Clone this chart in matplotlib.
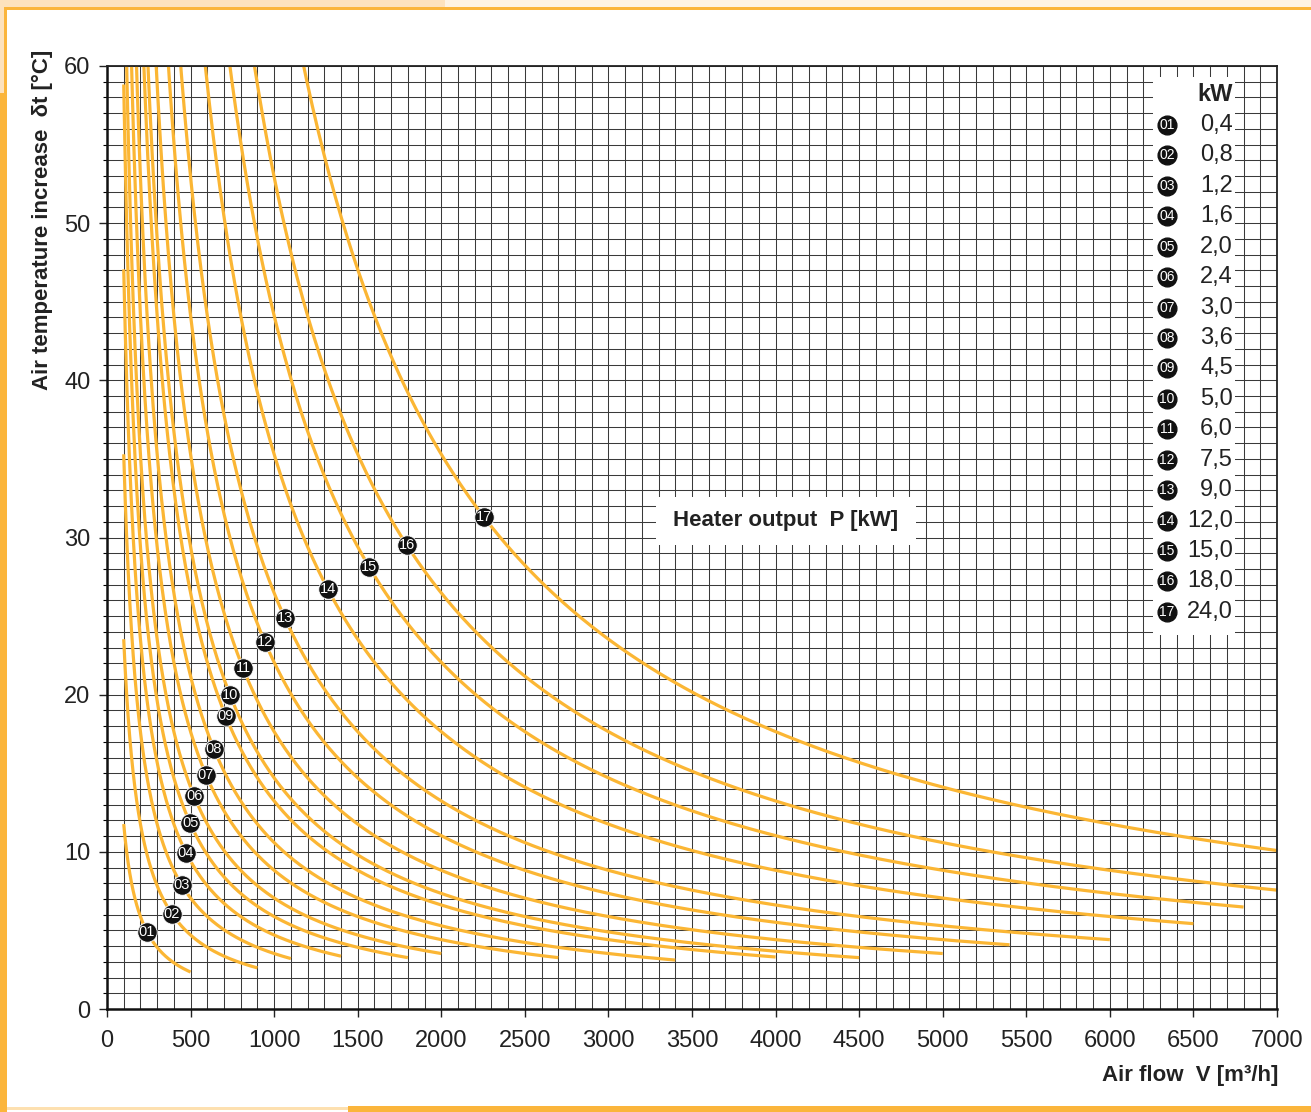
import matplotlib
matplotlib.use("Agg")
import matplotlib.pyplot as plt
import numpy as np
from matplotlib.patches import Rectangle

# Heater stages: number, output in kW and the air-flow range each curve covers
curve_ids = ["01", "02", "03", "04", "05", "06", "07", "08", "09",
             "10", "11", "12", "13", "14", "15", "16", "17"]
heater_kw = [0.4, 0.8, 1.2, 1.6, 2.0, 2.4, 3.0, 3.6, 4.5,
             5.0, 6.0, 7.5, 9.0, 12.0, 15.0, 18.0, 24.0]
kw_labels = ["0,4", "0,8", "1,2", "1,6", "2,0", "2,4", "3,0", "3,6", "4,5",
             "5,0", "6,0", "7,5", "9,0", "12,0", "15,0", "18,0", "24,0"]
flow_min = [100] * 17
flow_max = [500, 900, 1100, 1400, 1800, 2000, 2700, 3400, 4000,
            4500, 5000, 5400, 6000, 6500, 6800, 7000, 7000]
# air flow at which each curve carries its number badge
badge_flow = [239, 389, 449, 473, 497, 521, 592, 640, 710,
              736, 814, 945, 1065, 1322, 1568, 1795, 2256]

x_ticks = [0, 500, 1000, 1500, 2000, 2500, 3000, 3500,
           4000, 4500, 5000, 5500, 6000, 6500, 7000]
y_ticks = [0, 10, 20, 30, 40, 50, 60]

AIR_HEAT = 0.34  # volumetric heat capacity of air, Wh/(m3*K)


def temp_rise(p_kw, flow):
    """Air temperature increase for heater output p_kw at air flow (m3/h)."""
    return np.asarray(p_kw) * 1000.0 / (AIR_HEAT * np.asarray(flow, dtype=float))


FONT = ["Liberation Sans Narrow", "Liberation Sans", "DejaVu Sans"]
plt.rcParams["font.family"] = FONT

W, H = 1311, 1112
fig = plt.figure(figsize=(W / 100, H / 100), dpi=100)
fig.patch.set_facecolor("white")

ORANGE = "#FBB53B"
PEACH = "#FDE2BD"
CURVE = "#FBB634"
INK = "#222222"


def px_rect(x, y, w, h, color):
    fig.add_artist(Rectangle((x / W, 1 - (y + h) / H), w / W, h / H,
                             transform=fig.transFigure, facecolor=color,
                             edgecolor="none", zorder=0))


# page frame
px_rect(0, 0, 445, 7, PEACH)
px_rect(445, 0, 866, 7, "#FEF3E3")
px_rect(4, 7, 1307, 3, ORANGE)
px_rect(0, 0, 4, 93, PEACH)
px_rect(4, 7, 3, 86, ORANGE)
px_rect(0, 93, 7, 1019, ORANGE)
px_rect(7, 1107, 341, 3, "#FDE0B0")
px_rect(348, 1106, 963, 6, ORANGE)

ax = fig.add_axes([107 / W, 1 - 1009 / H, 1170 / W, 943 / H])
ax.set_xlim(0, 7000)
ax.set_ylim(0, 60)
ax.set_axisbelow(True)

ax.set_xticks(x_ticks)
ax.set_yticks(y_ticks)
ax.set_xticks(np.arange(0, 7001, 100), minor=True)
ax.set_yticks(np.arange(0, 61, 1), minor=True)
ax.grid(which="both", color="#3a3a3a", linewidth=0.75)
ax.tick_params(axis="x", which="major", length=6, width=1.0, pad=9,
               labelsize=17, colors=INK, direction="out")
ax.tick_params(axis="x", which="minor", length=0)
ax.tick_params(axis="y", which="major", length=6, width=1.0, pad=6,
               labelsize=17, colors=INK, direction="out")
ax.tick_params(axis="y", which="minor", length=3, width=0.8, direction="out")
for side in ("left", "bottom"):
    ax.spines[side].set_linewidth(1.8)
    ax.spines[side].set_color("#111111")
for side in ("top", "right"):
    ax.spines[side].set_linewidth(1.3)
    ax.spines[side].set_color(INK)

# white panels for the key and the caption
ax.add_patch(Rectangle((6260, 23.8), 490, 35.5, facecolor="white",
                       edgecolor="none", zorder=1))
ax.add_patch(Rectangle((3285, 29.5), 1555, 3.05, facecolor="white",
                       edgecolor="none", zorder=1))
ax.text(4062, 31.05, "Heater output  P [kW]", ha="center", va="center",
        fontsize=16, fontweight="bold", color=INK, zorder=4)

# heater curves with their number badges
for cid, p, v0, v1, vb in zip(curve_ids, heater_kw, flow_min, flow_max, badge_flow):
    v = np.linspace(v0, v1, 600)
    ax.plot(v, temp_rise(p, v), color=CURVE, linewidth=2.3,
            solid_capstyle="butt", zorder=2)
    ax.plot([vb], [temp_rise(p, vb)], marker="o", markersize=14,
            color="#111111", markeredgecolor="white", markeredgewidth=0.6,
            zorder=3)
    ax.text(vb, temp_rise(p, vb), cid, ha="center", va="center",
            fontsize=10.5, color="white", zorder=4)

# key
ax.text(0.9624, 0.9693, "kW", transform=ax.transAxes, ha="right",
        va="center", fontsize=17, fontweight="bold", color=INK, zorder=4)
row0, step = 0.9374, 0.03227
for i, (cid, lab) in enumerate(zip(curve_ids, kw_labels)):
    yy = row0 - i * step
    ax.plot([0.906], [yy], transform=ax.transAxes, marker="o",
            markersize=13.5, color="#111111", zorder=4, clip_on=False)
    ax.text(0.906, yy, cid, transform=ax.transAxes, ha="center",
            va="center", fontsize=10, color="white", zorder=5)
    ax.text(0.9624, yy, lab, transform=ax.transAxes, ha="right",
            va="center", fontsize=17, color=INK, zorder=4)

fig.text(1278 / W, 1 - 1076 / H, "Air flow  V [m³/h]", ha="right",
         va="center", fontsize=16, fontweight="bold", color=INK)
fig.text(42 / W, 1 - 220 / H, "Air temperature increase  δt [°C]",
         rotation=90, ha="center", va="center", fontsize=16,
         fontweight="bold", color=INK)

fig.savefig("out.png", dpi=100, facecolor="white")
